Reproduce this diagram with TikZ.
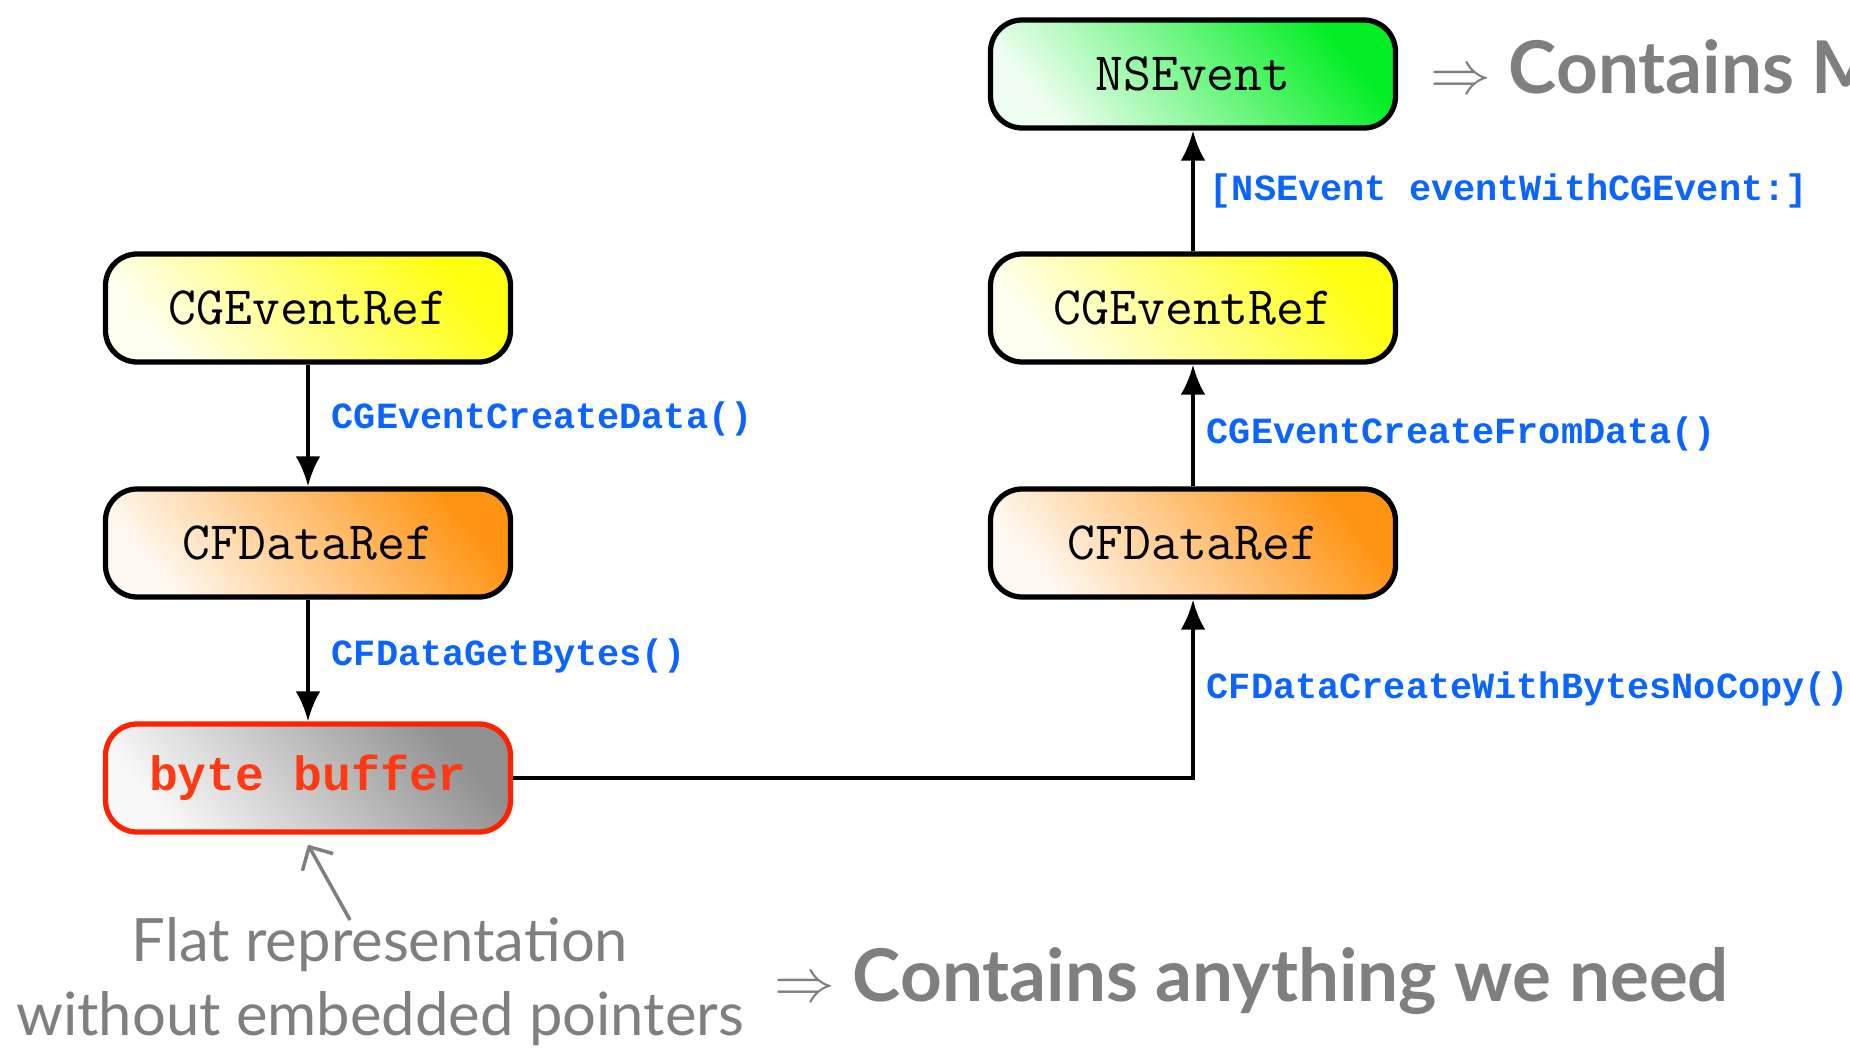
\documentclass[tikz,border=0pt]{standalone}
\usepackage{fontspec}
\usetikzlibrary{arrows.meta}
\newfontfamily\codefont{Liberation Mono}
\newfontfamily\gillfont{Lato}
\definecolor{callblue}{HTML}{0A64FF}
\definecolor{bufred}{HTML}{FF3A12}
\definecolor{bufedge}{HTML}{FF2200}
\definecolor{notegray}{HTML}{7F7F7F}
\definecolor{evyellow}{HTML}{FFFF10}
\definecolor{dataorange}{HTML}{FF9414}
\definecolor{nsgreen}{HTML}{00EE22}
\definecolor{bufgray}{HTML}{909090}
\begin{document}
\begin{tikzpicture}[>={Latex[length=8.5pt,width=7pt]},
  obj/.style={draw=black,line width=1.5pt,rounded corners=9pt,
    minimum width=4.05cm,minimum height=1.08cm,
    font=\ttfamily\fontsize{15.4}{18}\selectfont},
  shadeto/.style={bottom color=#1!6,top color=#1,shading angle=-50},
  call/.style={font=\codefont\bfseries\fontsize{10.5}{12}\selectfont,text=callblue},
  flow/.style={->,line width=1.2pt},
  note/.style={font=\gillfont\fontsize{17}{21}\selectfont,text=notegray},
  claim/.style={font=\gillfont\bfseries\fontsize{20.7}{24}\selectfont,text=notegray,anchor=base west}]

\useasboundingbox (0,0) rectangle (18.5,10.47);

% sender: event -> data -> raw bytes
\node[obj,shadeto=evyellow] (lev) at (3.08,7.39) {CGEventRef};
\node[obj,shadeto=dataorange] (ldata) at (3.08,5.04) {CFDataRef};
\node[obj,draw=bufedge,shadeto=bufgray,text=bufred,
  font=\codefont\bfseries\fontsize{13.7}{16}\selectfont] (buf) at (3.08,2.69) {byte buffer};

% receiver: bytes -> data -> event -> NSEvent
\node[obj,shadeto=dataorange] (rdata) at (11.93,5.04) {CFDataRef};
\node[obj,shadeto=evyellow] (rev) at (11.93,7.39) {CGEventRef};
\node[obj,shadeto=nsgreen] (nsev) at (11.93,9.73) {NSEvent};

\draw[flow] (lev) -- node[call,right=1mm,pos=0.45] {CGEventCreateData()} (ldata);
\draw[flow] (ldata) -- node[call,right=1mm,pos=0.46] {CFDataGetBytes()} (buf);
\draw[flow] (buf.east) -| node[call,right,pos=0.75] {CFDataCreateWithBytesNoCopy()} (rdata.south);
\draw[flow] (rdata) -- node[call,right,pos=0.43] {CGEventCreateFromData()} (rev);
\draw[flow] (rev) -- node[call,right=0.3mm] {[NSEvent eventWithCGEvent:]} (nsev);

% remarks
\node[note,align=center] (flat) at (3.80,0.65) {Flat representation\\without embedded pointers};
\coordinate (flattail) at (3.50,1.27);
\draw[notegray,line width=1pt,-{Straight Barb[length=5pt,width=10pt]}]
  (flattail) -- ([yshift=-1mm]buf.south);
\node[claim] (need) at (7.62,0.46) {{\fontsize{16}{16}\selectfont$\Rightarrow$} Contains anything we need};
\node[claim] (mac) at (14.18,9.53) {{\fontsize{16}{16}\selectfont$\Rightarrow$} Contains M};
\end{tikzpicture}
\end{document}
